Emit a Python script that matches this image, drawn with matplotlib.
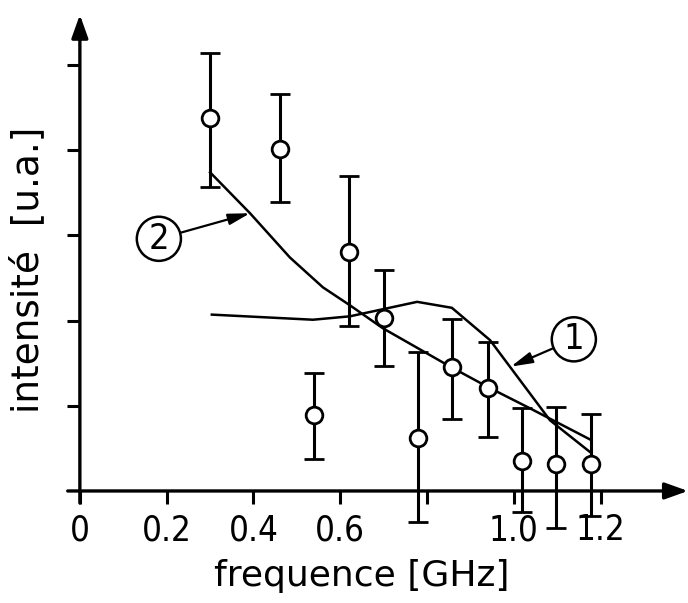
import matplotlib
matplotlib.use("Agg")
import matplotlib.pyplot as plt

# mesures (fréquence en GHz, intensité en u.a.)
freq = [0.30, 0.46, 0.54, 0.62, 0.70, 0.78, 0.857, 0.94, 1.018, 1.097, 1.177]
inten = [4.38, 4.01, 0.89, 2.81, 2.03, 0.62, 1.46, 1.21, 0.35, 0.32, 0.32]
err_haut = [5.14, 4.66, 1.38, 3.70, 2.59, 1.63, 2.02, 1.75, 0.97, 0.99, 0.90]
err_bas = [3.57, 3.39, 0.38, 1.94, 1.47, -0.36, 0.85, 0.63, -0.25, -0.43, -0.29]

# courbe 1
c1_x = [0.304, 0.537, 0.622, 0.777, 0.857, 0.945, 1.083, 1.177]
c1_y = [2.07, 2.01, 2.05, 2.22, 2.15, 1.77, 0.83, 0.45]

# courbe 2
c2_x = [0.30, 0.392, 0.484, 0.56, 0.622, 0.698, 0.853, 0.94, 1.037, 1.177]
c2_y = [3.74, 3.26, 2.74, 2.39, 2.18, 1.91, 1.46, 1.22, 0.97, 0.60]

xticks = [0, 0.2, 0.4, 0.6, 0.8, 1.0, 1.2]
xlabels = ["0", "0.2", "0.4", "0.6", "", "1.0", "1.2"]
yticks = [1, 2, 3, 4, 5]

fig = plt.figure(figsize=(6.88, 6.03), dpi=100)
ax = fig.add_axes([0, 0, 1, 1])
ax.set_xlim(-0.184, 1.401)
ax.set_ylim(-1.315, 5.763)

ax.plot(c1_x, c1_y, color="black", lw=1.8)
ax.plot(c2_x, c2_y, color="black", lw=1.8)

yerr = [[v - b for v, b in zip(inten, err_bas)],
        [h - v for v, h in zip(inten, err_haut)]]
ax.errorbar(freq, inten, yerr=yerr, fmt="o", color="black", ecolor="black",
            elinewidth=2.2, capsize=7, capthick=2.2, ms=12,
            mfc="white", mec="black", mew=2, zorder=5)

# axes avec flèches
for s in ["top", "right", "left", "bottom"]:
    ax.spines[s].set_visible(False)
ax.spines["left"].set_position(("data", 0))
ax.spines["bottom"].set_position(("data", 0))
ax.annotate("", xy=(1.401, 0), xytext=(-0.028, 0),
            arrowprops=dict(arrowstyle="-|>,head_length=1.4,head_width=0.5",
                            lw=2.4, color="black", shrinkA=0, shrinkB=0))
ax.annotate("", xy=(0, 5.59), xytext=(0, -0.14),
            arrowprops=dict(arrowstyle="-|>,head_length=1.4,head_width=0.5",
                            lw=2.4, color="black", shrinkA=0, shrinkB=0))

ax.set_xticks(xticks)
ax.set_xticklabels(xlabels, fontsize=25, fontstretch="condensed")
ax.set_yticks(yticks)
ax.set_yticklabels([])
ax.tick_params(axis="x", direction="out", length=9, width=2.2, pad=7)
ax.tick_params(axis="y", direction="out", length=9.5, width=2.2)

ax.text((362 - 80) / 434, (491 - 576) / 85.2, "frequence [GHz]",
        ha="center", va="center", fontsize=26)
ax.text((28 - 80) / 434, (491 - 270) / 85.2, "intensité  [u.a.]",
        ha="center", va="center", fontsize=27, rotation=90)

# étiquettes des courbes
arrow = dict(arrowstyle="-|>,head_length=0.5,head_width=0.13", lw=1.6,
             color="black", shrinkA=0, shrinkB=0)
circle = dict(boxstyle="circle,pad=0.14", fc="white", ec="black", lw=1.8)
ax.annotate("2", xy=(0.392, 3.26), xytext=(0.182, 2.96), fontsize=26,
            fontstretch="condensed", ha="center", va="center",
            arrowprops=arrow, bbox=circle)
ax.annotate("1", xy=(0.993, 1.46), xytext=(1.138, 1.78), fontsize=26,
            fontstretch="condensed", ha="center", va="center",
            arrowprops=arrow, bbox=circle)

fig.savefig("out.png", dpi=100)
